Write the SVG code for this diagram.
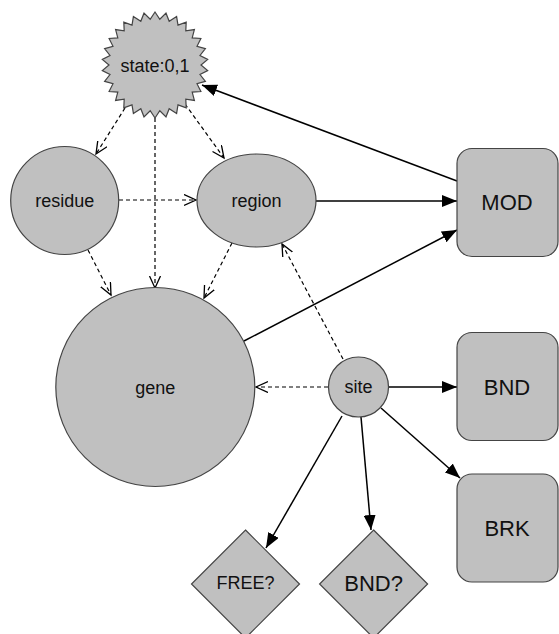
<svg xmlns="http://www.w3.org/2000/svg" width="559" height="634" viewBox="0 0 559 634">
<style>
.n{fill:#c0c0c0;stroke:#444;stroke-width:1.2}
.t{font-family:"Liberation Sans",Arial,sans-serif;font-size:18px;fill:#111;text-anchor:middle;dominant-baseline:central}
.b{font-size:22px}
.s{stroke:#000;stroke-width:1.5;fill:none}
.d{stroke:#000;stroke-width:1.2;fill:none;stroke-dasharray:4,3}
</style>
<defs>
<marker id="fa" markerUnits="userSpaceOnUse" markerWidth="16" markerHeight="12" refX="15" refY="6" orient="auto">
<path d="M0,0 L15,6 L0,12 z" fill="#000"/>
</marker>
<marker id="oa" markerUnits="userSpaceOnUse" markerWidth="14" markerHeight="14" refX="12" refY="6" orient="auto">
<path d="M0,0.5 L12,6 L0,11.5" fill="none" stroke="#000" stroke-width="1.3"/>
</marker>
</defs>
<g id="connectors">
<line class="s" x1="457" y1="181" x2="202" y2="85" marker-end="url(#fa)"/>
<line class="s" x1="316" y1="201" x2="457" y2="201" marker-end="url(#fa)"/>
<line class="s" x1="244" y1="341" x2="457" y2="230" marker-end="url(#fa)"/>
<line class="s" x1="389" y1="387" x2="457" y2="387" marker-end="url(#fa)"/>
<line class="s" x1="381" y1="408" x2="460" y2="478" marker-end="url(#fa)"/>
<line class="s" x1="342" y1="416" x2="266" y2="548" marker-end="url(#fa)"/>
<line class="s" x1="361" y1="417" x2="371" y2="530" marker-end="url(#fa)"/>
<line class="d" x1="343" y1="359" x2="282" y2="244" marker-end="url(#oa)"/>
<line class="d" x1="328" y1="387" x2="256" y2="387" marker-end="url(#oa)"/>
<line class="d" x1="125" y1="108" x2="96" y2="154" marker-end="url(#oa)"/>
<line class="d" x1="155" y1="118" x2="155" y2="288" marker-end="url(#oa)"/>
<line class="d" x1="185" y1="104" x2="224" y2="158" marker-end="url(#oa)"/>
<line class="d" x1="119" y1="200" x2="196" y2="200" marker-end="url(#oa)"/>
<line class="d" x1="88" y1="250" x2="111" y2="295" marker-end="url(#oa)"/>
<line class="d" x1="232" y1="243" x2="204" y2="298" marker-end="url(#oa)"/>
</g>
<g id="state">
<polygon class="n" points="155,12 159.8,19.25 166,13.16 169.2,21.25 176.6,16.58 178,25.16 186.2,22.12 185.8,30.82 194.4,29.54 192.2,37.96 200.9,38.5 197,46.29 205.4,48.62 200,55.44 207.7,59.46 201,65 207.7,70.54 200,74.56 205.4,81.38 197,83.71 200.9,91.5 192.2,92.04 194.4,100.46 185.8,99.18 186.2,107.88 178,104.84 176.6,113.42 169.2,108.75 166,116.84 159.8,110.75 155,118 150.2,110.75 144,116.84 140.8,108.75 133.4,113.42 132,104.84 123.8,107.88 124.2,99.18 115.6,100.46 117.8,92.04 109.1,91.5 113,83.71 104.6,81.38 110,74.56 102.3,70.54 109,65 102.3,59.46 110,55.44 104.6,48.62 113,46.29 109.1,38.5 117.8,37.96 115.6,29.54 124.2,30.82 123.8,22.12 132,25.16 133.4,16.58 140.8,21.25 144,13.16 150.2,19.25"/>
<text class="t" x="155" y="66">state:0,1</text>
</g>
<g id="residue">
<ellipse class="n" cx="64.7" cy="200.5" rx="54" ry="54"/>
<text class="t" x="64.7" y="201">residue</text>
</g>
<g id="region">
<ellipse class="n" cx="256.5" cy="200.5" rx="59.5" ry="46.5"/>
<text class="t" x="256.5" y="201">region</text>
</g>
<g id="gene">
<circle class="n" cx="155.3" cy="387" r="99.5"/>
<text class="t" x="155.3" y="388">gene</text>
</g>
<g id="site">
<circle class="n" cx="358.5" cy="387" r="30"/>
<text class="t" x="358.5" y="387">site</text>
</g>
<g id="MOD">
<rect class="n" x="457" y="148.5" width="101" height="108" rx="15"/>
<text class="t b" x="507" y="202">MOD</text>
</g>
<g id="BND">
<rect class="n" x="457" y="332.5" width="101" height="108" rx="15"/>
<text class="t b" x="507" y="387">BND</text>
</g>
<g id="BRK">
<rect class="n" x="457" y="474" width="101" height="108" rx="15"/>
<text class="t b" x="507" y="528">BRK</text>
</g>
<g id="FREE">
<polygon class="n" points="245.5,530 299.5,584 245.5,638 191.5,584"/>
<text class="t" x="245.5" y="583">FREE?</text>
</g>
<g id="BNDq">
<polygon class="n" points="373.6,530 427.6,584 373.6,638 319.6,584"/>
<text class="t b" x="373.6" y="583">BND?</text>
</g>
</svg>
